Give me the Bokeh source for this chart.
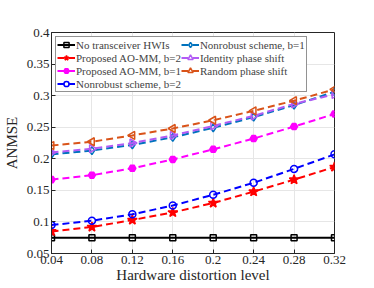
import numpy as np
from bokeh.plotting import figure
from bokeh.models import FixedTicker, Legend, LegendItem
from bokeh.embed import file_html
from bokeh.resources import INLINE

x = [0.04, 0.08, 0.12, 0.16, 0.2, 0.24, 0.28, 0.32]
no_hwi = [0.075, 0.075, 0.075, 0.075, 0.075, 0.075, 0.075, 0.075]
prop_b2 = [0.085, 0.092, 0.103, 0.115, 0.130, 0.148, 0.167, 0.187]
prop_b1 = [0.167, 0.174, 0.185, 0.199, 0.215, 0.232, 0.251, 0.271]
nonrob_b2 = [0.095, 0.102, 0.112, 0.126, 0.143, 0.162, 0.184, 0.207]
nonrob_b1 = [0.207, 0.213, 0.222, 0.234, 0.249, 0.266, 0.285, 0.306]
identity = [0.210, 0.216, 0.225, 0.237, 0.252, 0.268, 0.287, 0.302]
random_ps = [0.221, 0.227, 0.237, 0.248, 0.261, 0.276, 0.292, 0.310]

x_ticks = [0.04, 0.08, 0.12, 0.16, 0.2, 0.24, 0.28, 0.32]
x_labels = ["0.04", "0.08", "0.12", "0.16", "0.2", "0.24", "0.28", "0.32"]
y_ticks = [0.05, 0.1, 0.15, 0.2, 0.25, 0.3, 0.35, 0.4]
y_labels = ["0.05", "0.1", "0.15", "0.2", "0.25", "0.3", "0.35", "0.4"]

FONT = "Liberation Serif"

p = figure(frame_width=283, frame_height=221, x_range=(0.04, 0.32), y_range=(0.05, 0.4),
           output_backend="svg", toolbar_location=None,
           min_border_left=48, min_border_right=27, min_border_top=32, min_border_bottom=28)
p.outline_line_color = "#262626"
p.outline_line_width = 1
p.background_fill_color = "white"
p.grid.grid_line_color = "#e6e6e6"
p.grid.grid_line_width = 1

for ax in (p.xaxis, p.yaxis):
    ax.axis_line_color = "#262626"
    ax.major_tick_in = 4
    ax.major_tick_out = 0
    ax.minor_tick_line_color = None
    ax.major_tick_line_color = "#262626"
    ax.major_label_text_font = FONT
    ax.major_label_text_font_size = "13px"
    ax.major_label_text_color = "#262626"
    ax.axis_label_text_font = FONT
    ax.axis_label_text_font_size = "15px"
    ax.axis_label_text_font_style = "normal"
    ax.axis_label_text_color = "#262626"

p.xaxis.ticker = FixedTicker(ticks=x_ticks)
p.xaxis.major_label_overrides = dict(zip(x_ticks, x_labels))
p.yaxis.ticker = FixedTicker(ticks=y_ticks)
p.yaxis.major_label_overrides = dict(zip(y_ticks, y_labels))
p.xaxis.axis_label = "Hardware distortion level"
p.yaxis.axis_label = "ANMSE"
p.xaxis.major_label_standoff = 2
p.yaxis.major_label_standoff = 2
p.xaxis.axis_label_standoff = 0
p.yaxis.axis_label_standoff = 4

series = [
    ("No transceiver HWIs", no_hwi, "black", "square", 0, None, "solid", 6),
    ("Proposed AO-MM, b=2", prop_b2, "red", "star", 0, "red", "dashed", 10),
    ("Proposed AO-MM, b=1", prop_b1, "magenta", "hex", 0, "magenta", "dashed", 7),
    ("Nonrobust scheme, b=2", nonrob_b2, "blue", "circle", 0, None, "dashed", 7),
    ("Nonrobust scheme, b=1", nonrob_b1, "#0072BD", "diamond", 0, None, "dashed", 8),
    ("Identity phase shift", identity, "#B25BF5", "triangle", -np.pi / 2, None, "dashed", 8),
    ("Random phase shift", random_ps, "#D95319", "triangle", np.pi / 2, None, "dashed", 8),
]

items = []
for label, ys, col, mk, ang, fill, dash, sz in series:
    ld = "solid" if dash == "solid" else "7 4"
    r1 = p.line(x, ys, line_color=col, line_width=2, line_dash=ld)
    r2 = p.scatter(x, ys, marker=mk, size=sz, angle=ang, line_color=col, line_width=1.5,
                   fill_color=fill if fill else "white", fill_alpha=1.0 if fill else 0.0)
    items.append(LegendItem(label=label, renderers=[r1, r2]))

legend = Legend(items=items, location="top_left", ncols=2,
                label_text_font=FONT, label_text_font_size="11px",
                label_height=13, glyph_height=13, glyph_width=18,
                spacing=0, padding=1, margin=4, label_standoff=1,
                border_line_color="#262626", border_line_width=1,
                background_fill_alpha=1.0)
p.add_layout(legend)

open("out.html", "w").write(file_html(p, INLINE))
